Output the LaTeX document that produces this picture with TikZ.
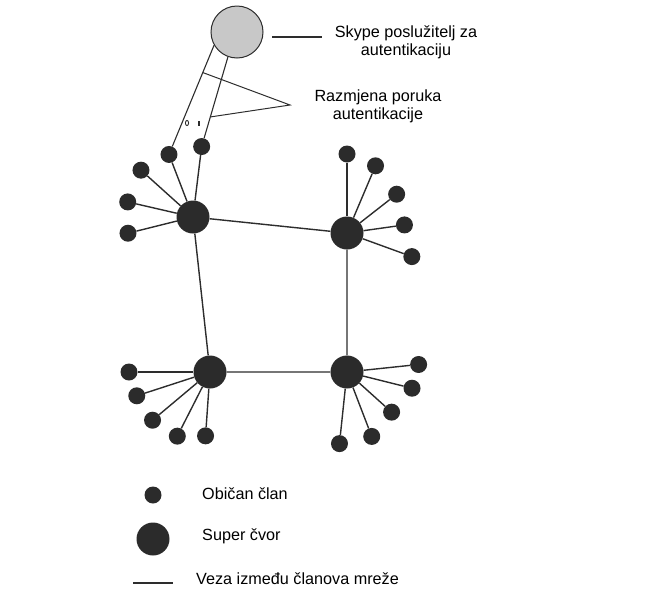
\documentclass[tikz,border=0pt]{standalone}
\usepackage{fontspec}
\setmainfont{Liberation Sans}
\usetikzlibrary{calc}

\definecolor{nodegray}{RGB}{43,43,43}
\definecolor{servgray}{RGB}{200,200,200}
\definecolor{linegray}{RGB}{45,45,45}

\begin{document}
\begin{tikzpicture}[x=1pt, y=-1pt,
    sibling distance=0pt,
    leaf/.style={circle, fill=nodegray, inner sep=0pt, minimum size=17pt},
    super/.style={circle, fill=nodegray, inner sep=0pt, minimum size=33pt},
    link/.style={draw=linegray, line width=1.4pt},
    edge from parent/.style={link},
    txt/.style={inner sep=0pt, font=\fontsize{16.2}{18}\selectfont}
    ]
    \useasboundingbox (0,0) rectangle (664,606);

    \node[circle, draw=linegray, fill=servgray, line width=1pt, minimum size=52pt, inner sep=0pt] (srv) at (237,32) {};

    \node[super] (a) at (193,217) {}
      child[grow=111, level distance=67] {node[leaf] (a1) {}}
      child[grow=83, level distance=71] {node[leaf] (a2) {}}
      child[grow=138, level distance=70] {node[leaf] (a3) {}}
      child[grow=167, level distance=67] {node[leaf] (a4) {}}
      child[grow=194, level distance=67] {node[leaf] (a5) {}};
    \node[super] (b) at (347,233) {}
      child[grow=90, level distance=79] {node[leaf] (b1) {}}
      child[grow=67, level distance=73] {node[leaf] (b2) {}}
      child[grow=38, level distance=63] {node[leaf] (b3) {}}
      child[grow=8, level distance=58] {node[leaf] (b4) {}}
      child[grow=-20, level distance=69] {node[leaf] (b5) {}};
    \node[super] (c) at (210,372) {}
      child[grow=180, level distance=81] {node[leaf] (c1) {}}
      child[grow=198, level distance=77] {node[leaf] (c2) {}}
      child[grow=220, level distance=75] {node[leaf] (c3) {}}
      child[grow=243, level distance=72] {node[leaf] (c4) {}}
      child[grow=266, level distance=64] {node[leaf] (c5) {}};
    \node[super] (d) at (347,372) {}
      child[grow=6, level distance=72] {node[leaf] (d1) {}}
      child[grow=-14, level distance=67] {node[leaf] (d2) {}}
      child[grow=-42, level distance=60] {node[leaf] (d3) {}}
      child[grow=-69, level distance=69] {node[leaf] (d4) {}}
      child[grow=-96, level distance=72] {node[leaf] (d5) {}};

    % links between super nodes
    \draw[link] (a) -- (b) -- (d) -- (c) -- (a);

    % authentication
    \draw[link, line width=1.1pt] (a1) -- (srv.210);
    \draw[link, line width=1.1pt] (a2) -- (srv.250);
    \coordinate (tip) at (290,105);
    \draw[linegray, line width=1pt] ($(a1)!0.75!(srv.210)$) -- (tip) -- ($(a2)!0.33!(srv.250)$);
    \draw[linegray, line width=0.9pt] (187,123) ellipse (1.6 and 2.6);
    \draw[linegray, line width=1.2pt] (199,121) -- (199,125.5);

    \node[txt, align=center] (srvlbl) at (406,42) {Skype poslužitelj za\\autentikaciju};
    \coordinate (s1) at (272,37);
    \coordinate (s2) at (322,37);
    \draw[link, line width=1.1pt] (s1) -- (s2);
    \node[txt, align=center] (msglbl) at (378,106) {Razmjena poruka\\autentikacije};

    % legend
    \node[leaf] (lg1) at (153,495) {};
    \node[super] (lg2) at (153,539) {};
    \coordinate (lg3a) at (133,583);
    \coordinate (lg3b) at (173,583);
    \draw[link, line width=1.8pt] (lg3a) -- (lg3b);
    \node[txt, anchor=west] (lt1) at (202,494) {Običan član};
    \node[txt, anchor=west] (lt2) at (202,536) {Super čvor};
    \node[txt, anchor=west] (lt3) at (196,579) {Veza između članova mreže};
  \end{tikzpicture}
\end{document}
